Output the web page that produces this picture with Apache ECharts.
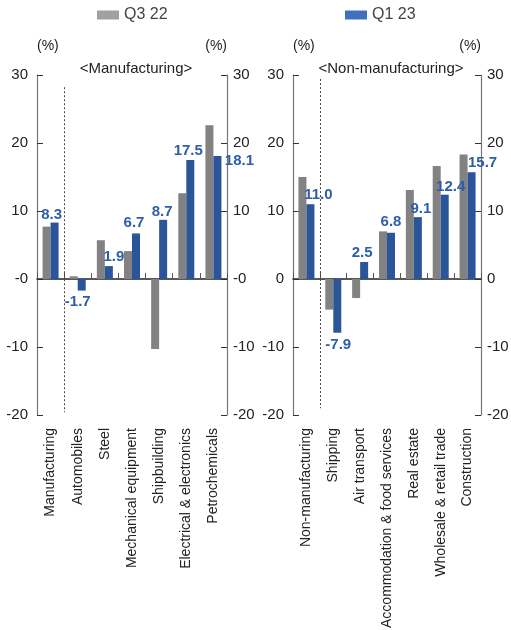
<!DOCTYPE html>
<html>
<head>
<meta charset="utf-8">
<script src="https://cdn.jsdelivr.net/npm/echarts@6/dist/echarts.min.js"></script>
<style>
  html, body { margin: 0; padding: 0; background: #fff; }
  #chart { width: 511px; height: 630px; }
</style>
</head>
<body>
<div id="chart"></div>
<script>
// Business survey index by industry (%), two survey rounds
const mfgCategories = ['Manufacturing', 'Automobiles', 'Steel', 'Mechanical equipment',
  'Shipbuilding', 'Electrical & electronics', 'Petrochemicals'];
const mfgQ322 = [7.7, 0.4, 5.7, 4.1, -10.3, 12.6, 22.6];
const mfgQ123 = [8.3, -1.7, 1.9, 6.7, 8.7, 17.5, 18.1];

const nonMfgCategories = ['Non-manufacturing', 'Shipping', 'Air transport',
  'Accommodation & food services', 'Real estate', 'Wholesale & retail trade', 'Construction'];
const nonMfgQ322 = [15.0, -4.5, -2.8, 7.0, 13.1, 16.6, 18.3];
const nonMfgQ123 = [11.0, -7.9, 2.5, 6.8, 9.1, 12.4, 15.7];

const yTicks = { min: -20, max: 30, step: 10 };

// label nudges [dx, dy] for the value labels
const mfgLabelNudge = [[-3, 2], [-4, 1.5], [5, 0], [-2, -1], [-1, 1.5], [-2, 0], [22, 14]];
const nonMfgLabelNudge = [[8, 0], [1, 2.5], [-2, 0.5], [0, -1.5], [3, 1.5], [6, 1.5], [11, 0]];

const FONT = "'Liberation Sans', Arial, sans-serif";
const GRAY = '#828282';
const BLUE = '#2a5598';
const LABEL_BLUE = '#2f5ea8';
const AXIS_GRAY = '#777';

const grids = [
  { left: 37, width: 190, top: 75, height: 340, outerBoundsMode: 'none', containLabel: false },
  { left: 293, width: 188, top: 75, height: 340, outerBoundsMode: 'none', containLabel: false }
];

function labelled(values, nudges) {
  return values.map((v, i) => ({
    value: v,
    label: {
      position: v < 0 ? 'bottom' : 'top',
      offset: nudges[i]
    }
  }));
}

const xAxes = [];
const yAxes = [];
const series = [];

[[mfgCategories, mfgQ322, mfgQ123, mfgLabelNudge, '-0'],
 [nonMfgCategories, nonMfgQ322, nonMfgQ123, nonMfgLabelNudge, '0']].forEach((panel, g) => {
  const [cats, prev, cur, nudges, zeroText] = panel;
  const base = xAxes.length;
  // category labels along the bottom
  xAxes.push({
    type: 'category', gridIndex: g, data: cats, position: 'bottom',
    axisLine: { show: false, onZero: false }, axisTick: { show: false },
    axisLabel: { rotate: 90, margin: 13, fontSize: 14, color: '#222', fontFamily: FONT, interval: 0 }
  });
  // zero line with boundary ticks
  xAxes.push({
    type: 'category', gridIndex: g, data: cats, position: 'top',
    axisLine: { show: true, onZero: true, lineStyle: { color: '#222', width: 1.5 } },
    axisTick: { show: true, interval: 0, length: 6, inside: false, lineStyle: { color: '#555' } },
    axisLabel: { show: false }
  });
  // hidden value axis for the divider
  xAxes.push({ type: 'value', gridIndex: g, min: 0, max: cats.length, show: false });

  const yBase = yAxes.length;
  ['left', 'right'].forEach(pos => {
    yAxes.push({
      type: 'value', gridIndex: g, position: pos,
      min: yTicks.min, max: yTicks.max, interval: yTicks.step,
      name: '(%)', nameLocation: 'end', nameGap: 22,
      nameTextStyle: { fontSize: 14, color: '#222', fontFamily: FONT, align: pos === 'left' ? 'left' : 'right' },
      axisLine: { show: true, lineStyle: { color: AXIS_GRAY, width: 1.2 } },
      axisTick: { show: true, inside: true, length: 6, lineStyle: { color: '#333' } },
      splitLine: { show: false },
      axisLabel: {
        fontSize: 15, color: '#222', fontFamily: FONT, margin: pos === 'left' ? 9 : 6,
        formatter: v => (v === 0 ? zeroText : String(v))
      }
    });
  });

  series.push({
    name: 'Q3 22', type: 'bar', xAxisIndex: base, yAxisIndex: yBase,
    data: prev, barWidth: 8, barGap: '0%', itemStyle: { color: GRAY }, silent: true
  });
  series.push({
    name: 'Q1 23', type: 'bar', xAxisIndex: base, yAxisIndex: yBase,
    data: labelled(cur, nudges), barWidth: 8, barGap: '0%', itemStyle: { color: BLUE },
    label: {
      show: true, distance: 2, color: LABEL_BLUE, fontWeight: 'bold', fontSize: 15, fontFamily: FONT,
      formatter: p => p.value.toFixed(1)
    },
    silent: true
  });
  series.push({
    type: 'line', xAxisIndex: base + 2, yAxisIndex: yBase, data: [], silent: true,
    markLine: {
      symbol: 'none', silent: true, label: { show: false },
      lineStyle: { type: [2, 2], color: '#444', width: 1 },
      data: [[{ coord: [1, g === 0 ? 28.2 : 29.4] }, { coord: [1, g === 0 ? -19.6 : -19] }]]
    }
  });
});

const legendText = { fontSize: 16, color: '#444', fontFamily: FONT };

const option = {
  animation: false,
  backgroundColor: '#fff',
  grid: grids,
  legend: [
    { data: [{ name: 'Q3 22', icon: 'rect', itemStyle: { color: '#a0a0a0' } }], left: 92, top: 2,
      itemWidth: 22, itemHeight: 9, textStyle: legendText, selectedMode: false },
    { data: [{ name: 'Q1 23', icon: 'rect', itemStyle: { color: '#4171bc' } }], left: 340, top: 2,
      itemWidth: 22, itemHeight: 9, textStyle: legendText, selectedMode: false }
  ],
  title: [
    { text: '<Manufacturing>', left: 131, top: 56, textAlign: 'center',
      textStyle: { fontSize: 15, fontWeight: 'normal', color: '#222', fontFamily: FONT } },
    { text: '<Non-manufacturing>', left: 386, top: 56, textAlign: 'center',
      textStyle: { fontSize: 15, fontWeight: 'normal', color: '#222', fontFamily: FONT } }
  ],
  xAxis: xAxes,
  yAxis: yAxes,
  series: series
};

const chart = echarts.init(document.getElementById('chart'), null, { renderer: 'canvas' });
chart.setOption(option);
</script>
</body>
</html>
